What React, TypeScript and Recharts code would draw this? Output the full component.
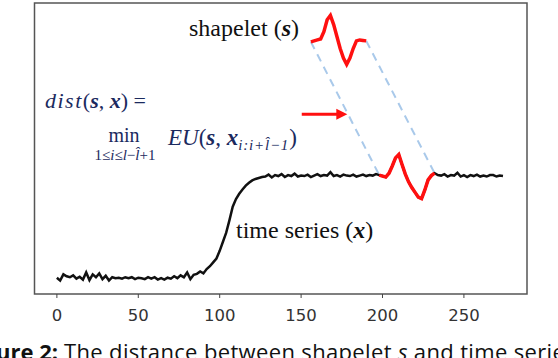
import React from 'react';
import { ComposedChart, Line, XAxis, YAxis, ReferenceLine, ReferenceArea } from 'recharts';

// time series x, sampled every 2 steps starting at t = 0
const STEP = 2;
const tsValues = [
  -0.28, -0.34, -0.21, -0.25, -0.27, -0.23, -0.3, -0.26, -0.32, -0.17,
  -0.33, -0.21, -0.27, -0.19, -0.31, -0.24, -0.34, -0.27, -0.29, -0.28,
  -0.3, -0.27, -0.29, -0.27, -0.31, -0.28, -0.29, -0.31, -0.27, -0.3,
  -0.27, -0.32, -0.29, -0.32, -0.28, -0.3, -0.25, -0.29, -0.23, -0.27,
  -0.17, -0.31, -0.22, -0.2, -0.15, -0.19, -0.1, -0.04, 0.04, 0.12,
  0.28, 0.47, 0.66, 0.92, 1.2, 1.36, 1.47, 1.56, 1.64, 1.7,
  1.75, 1.78, 1.8, 1.82, 1.83, 1.87, 1.81, 1.86, 1.84, 1.88,
  1.82, 1.86, 1.84, 1.89, 1.83, 1.85, 1.84, 1.87, 1.82, 1.85,
  1.88, 1.84, 1.86, 1.85, 1.92, 1.84, 1.86, 1.83, 1.87, 1.85,
  1.84, 1.87, 1.83, 1.85, 1.87, 1.84, 1.86, 1.85, 1.88, 1.86,
  1.84, 1.82, 1.9, 2.05, 2.22, 2.29, 2.08, 1.88, 1.72, 1.6,
  1.5, 1.4, 1.37, 1.55, 1.76, 1.85, 1.9, 1.86, 1.85, 1.88,
  1.83, 1.86, 1.85, 1.91, 1.83, 1.86, 1.82, 1.86, 1.84, 1.87,
  1.83, 1.85, 1.83, 1.86, 1.86, 1.83, 1.85, 1.84,
];

// where the shapelet matches inside the series
const matchStart = 198;
const matchEnd = 232;

// shapelet s drawn above the series
const shapeletStart = 156;
const shapeletValues = [
  4.64, 4.66, 4.68, 4.7, 4.85, 5.1, 5.19, 5.0, 4.75, 4.5,
  4.3, 4.17, 4.3, 4.5, 4.66, 4.68, 4.67, 4.66,
];

const xTicks = [0, 50, 100, 150, 200, 250];
const yTicks = [0, 1, 2, 3, 4, 5];
const xDomain = [-13.75, 288.75];
const yDomain = [-0.62, 5.45];

const arrowFrom = { x: 150.4, y: 3.13 };
const arrowTo = { x: 178.4, y: 3.13 };

const series = tsValues.map((v, i) => ({ t: i * STEP, v }));
const matched = series.filter((d) => d.t >= matchStart && d.t <= matchEnd);
const shapelet = shapeletValues.map((v, i) => ({ t: shapeletStart + i * STEP, v }));

const RED = '#ff1010';
const DASH = '#a9c9ea';
const NAVY = '#1b2a5e';
const SERIF = '"Liberation Serif", "Times New Roman", serif';
const SANS = '"Open Sans", sans-serif';

const Arrow = (props: any) => {
  const { x1, y1, x2, y2 } = props;
  return (
    <g>
      <line x1={x1} y1={y1} x2={x2 - 8} y2={y2} stroke={RED} strokeWidth={3} />
      <polygon points={`${x2},${y2} ${x2 - 11},${y2 - 5.5} ${x2 - 11},${y2 + 5.5}`} fill={RED} />
    </g>
  );
};

const Annotations = () => (
  <g>
    <text x={189} y={36} fontFamily={SERIF} fontSize={24} fill="#111">
      shapelet (<tspan fontWeight="bold" fontStyle="italic">s</tspan>)
    </text>
    <text x={236} y={238} fontFamily={SERIF} fontSize={24} fill="#111">
      time series (<tspan fontWeight="bold" fontStyle="italic">x</tspan>)
    </text>
    <text x={45} y={108} fontFamily={SERIF} fontSize={22} fill={NAVY}>
      <tspan fontStyle="italic" letterSpacing={1.5}>dist</tspan>
      <tspan>(</tspan>
      <tspan fontWeight="bold" fontStyle="italic">s</tspan>
      <tspan>, </tspan>
      <tspan fontWeight="bold" fontStyle="italic">x</tspan>
      <tspan>) =</tspan>
    </text>
    <text x={124} y={142} textAnchor="middle" fontFamily={SERIF} fontSize={20} fill={NAVY}>
      min
    </text>
    <text x={125} y={160} textAnchor="middle" fontFamily={SERIF} fontSize={15} fill={NAVY}>
      1≤<tspan fontStyle="italic">i</tspan>≤<tspan fontStyle="italic">l</tspan>−<tspan fontStyle="italic">l̂</tspan>+1
    </text>
    <text x={168} y={145} fontFamily={SERIF} fontSize={23} fill={NAVY}>
      <tspan fontStyle="italic">EU</tspan>
      <tspan>(</tspan>
      <tspan fontWeight="bold" fontStyle="italic">s</tspan>
      <tspan>, </tspan>
      <tspan fontWeight="bold" fontStyle="italic">x</tspan>
      <tspan fontSize={15} dy={5} fontStyle="italic" letterSpacing={0.8}>i:i+l̂−1</tspan>
      <tspan dy={-5}>)</tspan>
    </text>
    <text x={58} y={360} textAnchor="end" fontFamily={SANS} fontSize={22} fontWeight="bold" fill="#111">
      Figure 2:
    </text>
    <text x={64} y={360} fontFamily={SANS} fontSize={22} letterSpacing={0.35} fill="#111">
      The distance between shapelet <tspan fontStyle="italic">s</tspan> and time series <tspan fontStyle="italic">x</tspan>
    </text>
  </g>
);

export default function App() {
  return (
    <div style={{ position: 'absolute', left: 0, top: 0, background: '#fff' }}>
      <ComposedChart width={558} height={358} margin={{ top: 3, right: 31, left: 34.5, bottom: 34 }}>
        <XAxis
          type="number"
          dataKey="t"
          domain={xDomain}
          ticks={xTicks}
          allowDataOverflow
          height={30}
          axisLine={false}
          tickLine={{ stroke: '#444' }}
          tickSize={4}
          tickMargin={11}
          tick={{ fontSize: 16.5, fill: '#333', fontFamily: '"DejaVu Sans", sans-serif' }}
        />
        <YAxis
          type="number"
          domain={yDomain}
          ticks={yTicks}
          allowDataOverflow
          width={0}
          axisLine={false}
          tickLine={{ stroke: '#333' }}
          tickSize={2}
          tickFormatter={() => ''}
        />
        <ReferenceArea
          x1={xDomain[0]}
          x2={xDomain[1]}
          y1={yDomain[0]}
          y2={yDomain[1]}
          fill="none"
          stroke="#555"
          strokeWidth={1.5}
          ifOverflow="visible"
        />
        <ReferenceLine
          segment={[
            { x: shapelet[0].t, y: shapelet[0].v },
            { x: matched[0].t, y: matched[0].v },
          ]}
          stroke={DASH}
          strokeWidth={2}
          strokeDasharray="8 6"
        />
        <ReferenceLine
          segment={[
            { x: shapelet[shapelet.length - 1].t, y: shapelet[shapelet.length - 1].v },
            { x: matched[matched.length - 1].t, y: matched[matched.length - 1].v },
          ]}
          stroke={DASH}
          strokeWidth={2}
          strokeDasharray="8 6"
        />
        <ReferenceLine segment={[arrowFrom, arrowTo]} shape={Arrow} />
        <Line data={series} dataKey="v" type="linear" stroke="#111" strokeWidth={2.5} dot={false} isAnimationActive={false} />
        <Line data={matched} dataKey="v" type="linear" stroke={RED} strokeWidth={3.5} dot={false} isAnimationActive={false} />
        <Line data={shapelet} dataKey="v" type="linear" stroke={RED} strokeWidth={3.5} dot={false} isAnimationActive={false} />
        <Annotations />
      </ComposedChart>
    </div>
  );
}
